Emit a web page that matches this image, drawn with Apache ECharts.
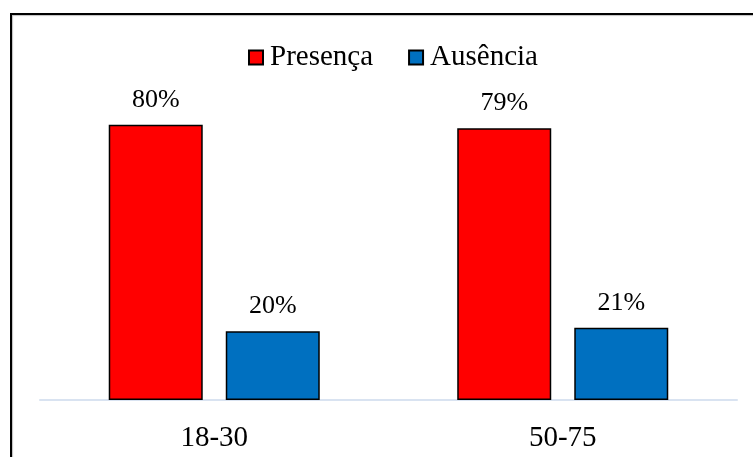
<!DOCTYPE html>
<html>
<head>
<meta charset="utf-8">
<script src="https://cdn.jsdelivr.net/npm/echarts@6/dist/echarts.min.js"></script>
<style>
  html, body { margin: 0; padding: 0; background: #ffffff; }
  #chart { width: 753px; height: 457px; }
</style>
</head>
<body>
<div id="chart"></div>
<script>
// Faixas etárias e percentagens por grupo
const categories = ['18-30', '50-75'];
const presenca = [80, 79];
const ausencia = [20, 21];
const seriesNames = ['Presença', 'Ausência'];

const serifFont = '"Liberation Serif", "Times New Roman", serif';

const chart = echarts.init(document.getElementById('chart'), null, { renderer: 'canvas' });

const barLabel = {
  show: true,
  position: 'top',
  distance: 12,
  formatter: p => p.value + '%',
  color: '#000',
  fontFamily: serifFont,
  fontSize: 26
};

chart.setOption({
  animation: false,
  backgroundColor: '#ffffff',
  textStyle: { fontFamily: serifFont },
  legend: {
    top: 43,
    left: 248,
    padding: 0,
    icon: 'rect',
    itemWidth: 14,
    itemHeight: 14,
    itemGap: 35,
    textStyle: { fontFamily: serifFont, fontSize: 29, color: '#000', padding: [0, 0, 0, 2] },
    data: seriesNames
  },
  grid: { left: 40, right: 16, top: 56, bottom: 57, containLabel: false },
  xAxis: {
    type: 'category',
    data: categories,
    axisLine: { lineStyle: { color: '#D9E3F1', width: 2 } },
    axisTick: { show: false },
    axisLabel: { color: '#000', fontFamily: serifFont, fontSize: 29, margin: 24 }
  },
  yAxis: {
    type: 'value',
    min: 0,
    max: 100,
    show: false,
    splitLine: { show: false }
  },
  series: [
    {
      name: seriesNames[0],
      type: 'bar',
      data: presenca,
      barWidth: 94,
      barGap: '24.5%',
      itemStyle: { color: '#FF0000', borderColor: '#000', borderWidth: 1.5 },
      label: barLabel
    },
    {
      name: seriesNames[1],
      type: 'bar',
      data: ausencia,
      barWidth: 94,
      itemStyle: { color: '#0070C0', borderColor: '#000', borderWidth: 1.5 },
      label: barLabel
    }
  ],
  graphic: [
    {
      type: 'polyline',
      silent: true,
      shape: { points: [[11, 457], [11, 14], [753, 14]] },
      style: { stroke: '#000', lineWidth: 2, fill: null,
               shadowColor: 'rgba(0,0,0,0.25)', shadowBlur: 1, shadowOffsetX: 1, shadowOffsetY: 1 }
    }
  ]
});
</script>
</body>
</html>
